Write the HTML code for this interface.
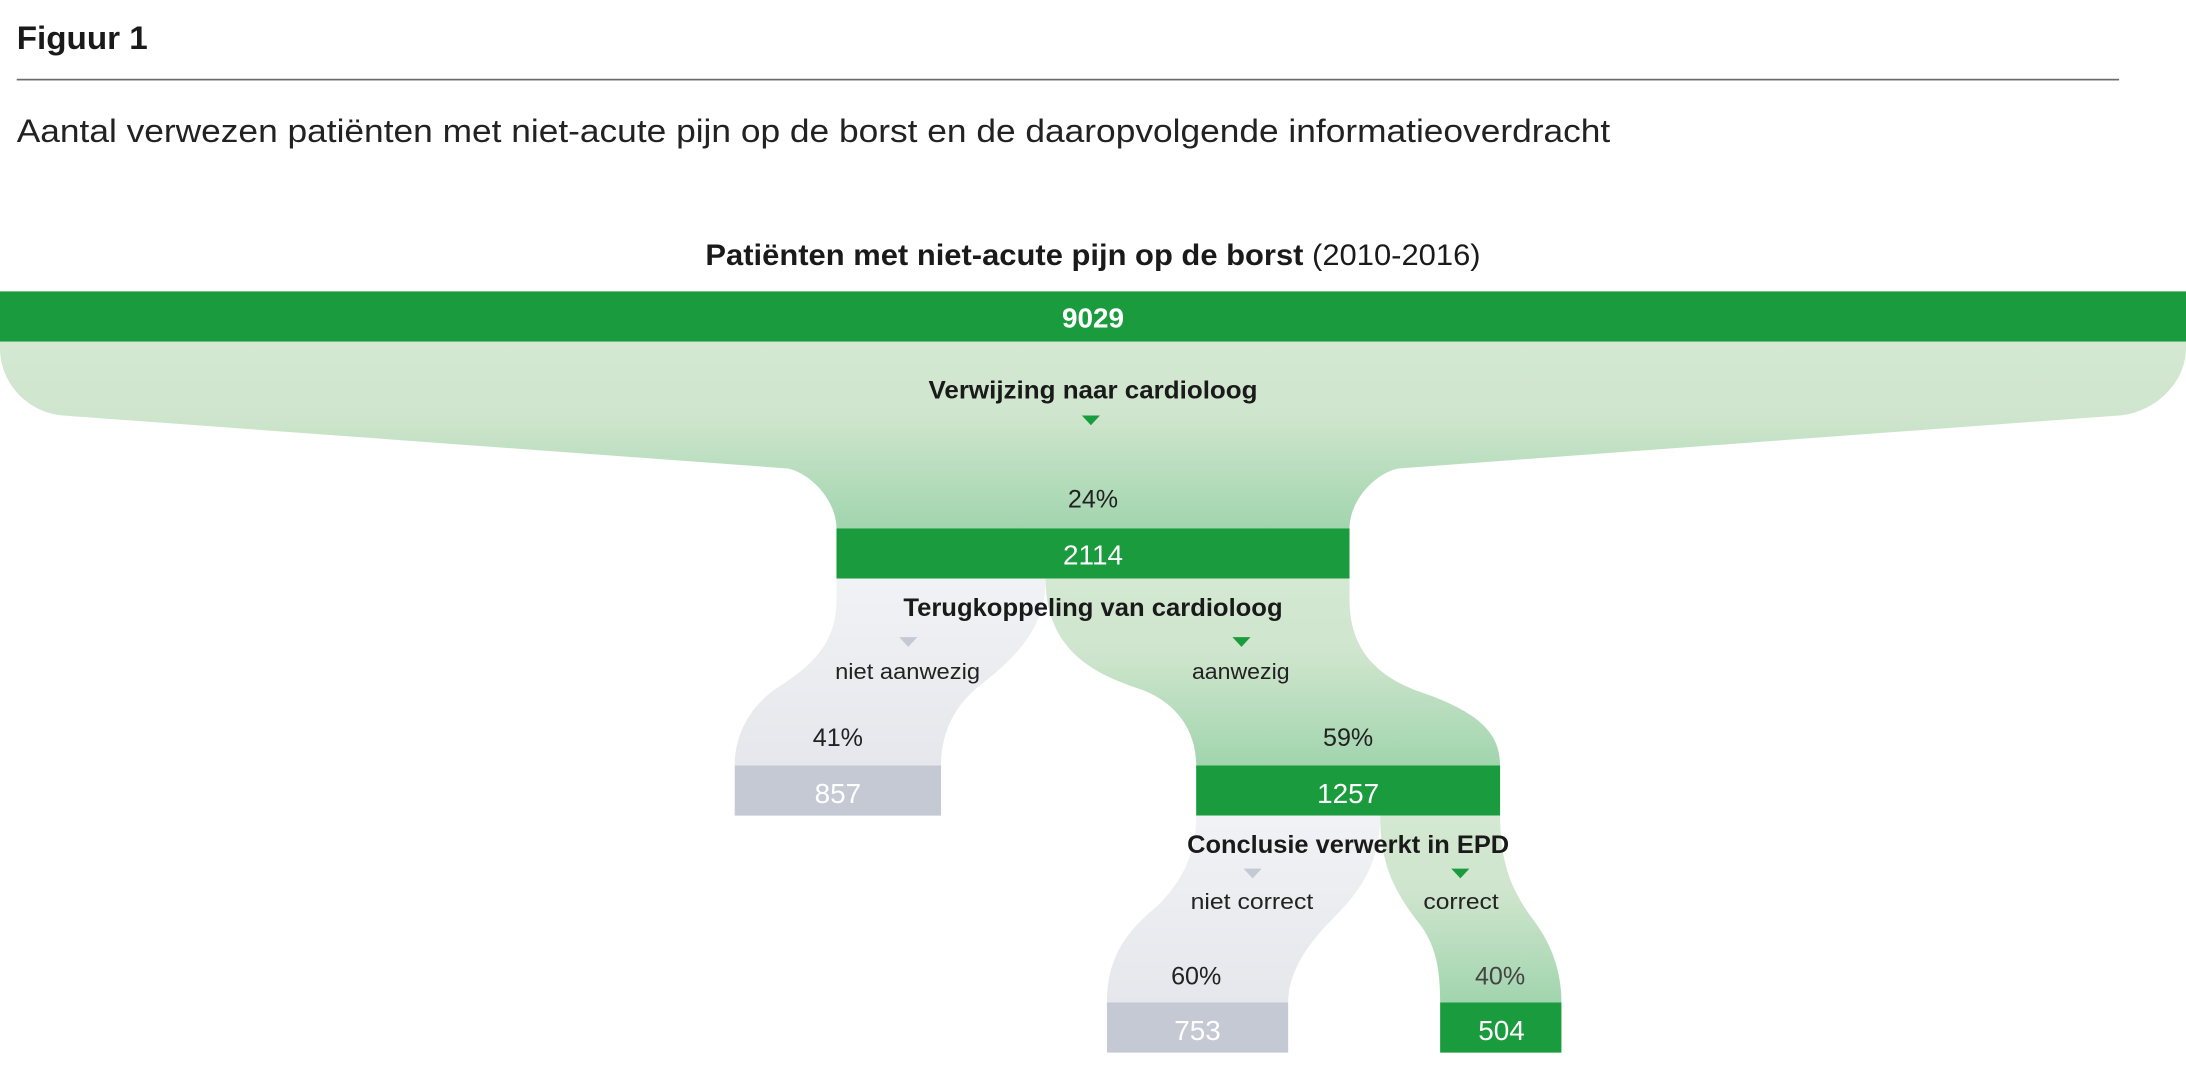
<!DOCTYPE html>
<html><head><meta charset="utf-8"><style>
html,body{margin:0;padding:0;background:#fff;}
svg{display:block;}
text{font-family:"Liberation Sans Narrow","Liberation Sans",sans-serif;}
</style></head><body>
<svg width="2186" height="1078" viewBox="0 0 1568 773.2" preserveAspectRatio="none" xmlns="http://www.w3.org/2000/svg">
<defs>
<linearGradient id="g1" x1="0" y1="0" x2="0" y2="1">
<stop offset="0" stop-color="#d4e8d2"/><stop offset="0.4" stop-color="#cfe5cd"/><stop offset="1" stop-color="#a1d5ae"/></linearGradient>
<linearGradient id="gr" x1="0" y1="0" x2="0" y2="1">
<stop offset="0" stop-color="#f1f2f5"/><stop offset="1" stop-color="#e6e7ec"/></linearGradient>
</defs>
<text x="12" y="35" font-size="23" font-weight="bold" fill="#1a1a1a" textLength="94" lengthAdjust="spacingAndGlyphs">Figuur 1</text>
<rect x="12" y="56.5" width="1508" height="1.2" fill="#6b6b6b"/>
<text x="12" y="102" font-size="23" fill="#222" textLength="1143" lengthAdjust="spacingAndGlyphs">Aantal verwezen patiënten met niet-acute pijn op de borst en de daaropvolgende informatieoverdracht</text>
<text x="506" y="190" font-size="21" fill="#1a1a1a" textLength="556" lengthAdjust="spacingAndGlyphs"><tspan font-weight="bold">Patiënten met niet-acute pijn op de borst</tspan> (2010-2016)</text>

<path d="M0,245 L1568,245 L1568,250 C1568,275 1545,296 1520,298 L1003,336 C985,340 968,360 968,379 L600,379 C600,360 583,340 565,336 L45,298 C20,296 0,275 0,250 Z" fill="url(#g1)"/>
<rect x="0" y="209" width="1568" height="36" fill="#1a9c3e"/>
<text x="784" y="235" font-size="20" font-weight="bold" fill="#fff" text-anchor="middle">9029</text>
<text x="784" y="286" font-size="18" font-weight="bold" fill="#1a1a1a" text-anchor="middle" textLength="236" lengthAdjust="spacingAndGlyphs">Verwijzing naar cardioloog</text>
<path d="M776,298 L789,298 L782.5,305 Z" fill="#1a9c3e"/>
<text x="784" y="364" font-size="18" fill="#222" text-anchor="middle">24%</text>
<rect x="600" y="379" width="368" height="36" fill="#1a9c3e"/>
<text x="784" y="405" font-size="20" fill="#fff" text-anchor="middle">2114</text>

<path d="M600,415 L750,415 C750,450 730,470 705,490 C685,505 675,525 675,549 L527,549 C527,530 535,510 555,495 C578,480 600,465 600,430 Z" fill="url(#gr)"/>
<path d="M750,415 L968,415 L968,430 C968,468 990,485 1015,495 C1060,510 1076,525 1076,549 L858,549 C858,525 845,505 820,495 C790,485 750,470 750,415 Z" fill="url(#g1)"/>
<text x="784" y="442" font-size="18" font-weight="bold" fill="#1a1a1a" text-anchor="middle" textLength="272" lengthAdjust="spacingAndGlyphs">Terugkoppeling van cardioloog</text>
<path d="M645,457 L658,457 L651.5,464 Z" fill="#c5c9d3"/>
<path d="M884,457 L897,457 L890.5,464 Z" fill="#1a9c3e"/>
<text x="651" y="487" font-size="16" fill="#222" text-anchor="middle" textLength="104" lengthAdjust="spacingAndGlyphs">niet aanwezig</text>
<text x="890" y="487" font-size="16" fill="#222" text-anchor="middle" textLength="70" lengthAdjust="spacingAndGlyphs">aanwezig</text>
<text x="601" y="535" font-size="18" fill="#222" text-anchor="middle">41%</text>
<text x="967" y="535" font-size="18" fill="#222" text-anchor="middle">59%</text>
<rect x="527" y="549" width="148" height="36" fill="#c5c9d4"/>
<text x="601" y="576" font-size="20" fill="#fff" text-anchor="middle">857</text>
<rect x="858" y="549" width="218" height="36" fill="#1a9c3e"/>
<text x="967" y="576" font-size="20" fill="#fff" text-anchor="middle">1257</text>

<path d="M858,585 L990,585 C990,620 975,640 955,660 C935,680 924,700 924,719 L794,719 C794,690 805,670 830,650 C850,630 858,610 858,585 Z" fill="url(#gr)"/>
<path d="M990,585 L1076,585 C1076,620 1085,640 1100,660 C1115,680 1120,700 1120,719 L1033,719 C1033,695 1030,680 1020,665 C1000,640 990,620 990,585 Z" fill="url(#g1)"/>
<text x="967" y="612" font-size="18" font-weight="bold" fill="#1a1a1a" text-anchor="middle" textLength="231" lengthAdjust="spacingAndGlyphs">Conclusie verwerkt in EPD</text>
<path d="M892,623 L905,623 L898.5,630 Z" fill="#c5c9d3"/>
<path d="M1041,623 L1054,623 L1047.5,630 Z" fill="#1a9c3e"/>
<text x="898" y="652" font-size="16" fill="#222" text-anchor="middle" textLength="88" lengthAdjust="spacingAndGlyphs">niet correct</text>
<text x="1048" y="652" font-size="16" fill="#222" text-anchor="middle" textLength="54" lengthAdjust="spacingAndGlyphs">correct</text>
<text x="858" y="706" font-size="18" fill="#222" text-anchor="middle">60%</text>
<text x="1076" y="706" font-size="18" fill="#444" text-anchor="middle">40%</text>
<rect x="794" y="719" width="130" height="36" fill="#c5c9d4"/>
<text x="859" y="746" font-size="20" fill="#fff" text-anchor="middle">753</text>
<rect x="1033" y="719" width="87" height="36" fill="#1a9c3e"/>
<text x="1077" y="746" font-size="20" fill="#fff" text-anchor="middle">504</text>
</svg>
</body></html>
